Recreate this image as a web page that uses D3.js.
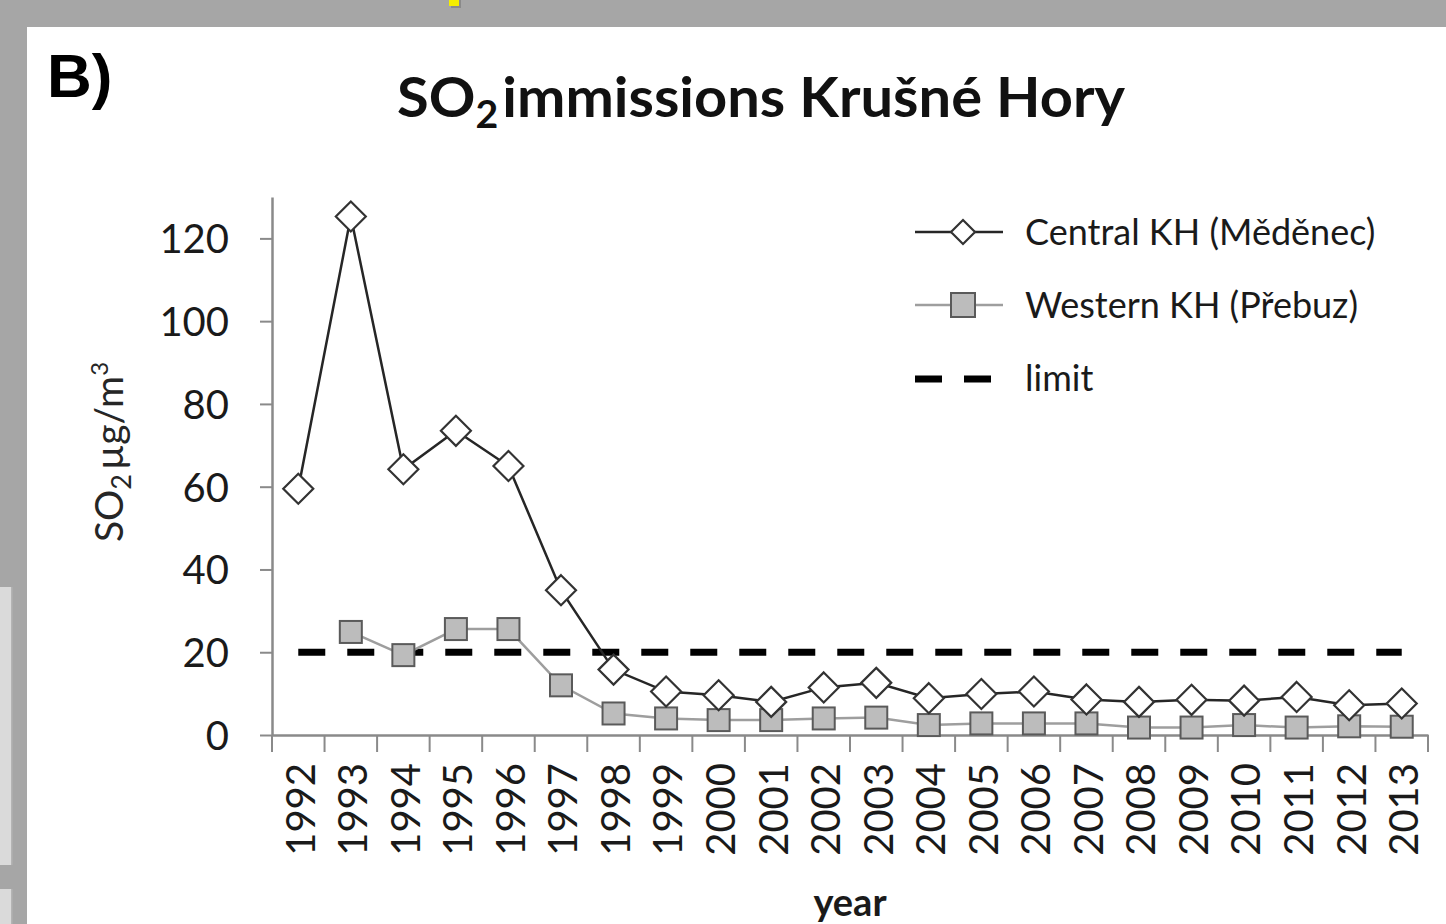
<!DOCTYPE html>
<html>
<head>
<meta charset="utf-8">
<script src="https://cdn.jsdelivr.net/npm/d3@7"></script>
<style>
  body { margin: 0; background: #a6a6a6; }
  text { font-family: Lato, "Open Sans", sans-serif; fill: #1a1a1a; }
</style>
</head>
<body>
<svg id="chart" width="1446" height="924"></svg>
<script>
var years = d3.range(1992, 2014).map(String);
// Central KH (Měděnec), diamonds
var central = [59.5, 125.3, 64.2, 73.5, 65, 35, 15.8, 10.5, 9.6, 8, 11.5, 12.6, 8.9, 9.9, 10.5, 8.6, 8, 8.5, 8.3, 9.2, 7.2, 7.6];
// Western KH (Přebuz), squares, no value in 1992
var western = [null, 24.9, 19.3, 25.6, 25.6, 12, 5.2, 4, 3.6, 3.6, 4, 4.2, 2.4, 2.8, 2.8, 2.8, 1.8, 1.8, 2.4, 1.8, 2.1, 2];
var limit = 20;
var yTicks = [0, 20, 40, 60, 80, 100, 120];

var width = 1446, height = 924;
var plotLeft = 272, plotRight = 1428, plotTop = 197, plotBottom = 735;

var svg = d3.select("#chart");

// page background pieces
svg.append("rect").attr("width", width).attr("height", height).attr("fill", "#a6a6a6");
svg.append("rect").attr("x", 0).attr("y", 587).attr("width", 12).attr("height", 278).attr("fill", "#dadada");
svg.append("rect").attr("x", 0).attr("y", 889).attr("width", 12).attr("height", 40).attr("fill", "#dadada");
svg.append("rect").attr("x", 11).attr("y", 587).attr("width", 1.5).attr("height", 278).attr("fill", "#b4b4b4");
svg.append("rect").attr("x", 11).attr("y", 889).attr("width", 1.5).attr("height", 40).attr("fill", "#b4b4b4");
svg.append("rect").attr("x", 451).attr("y", 0).attr("width", 10).attr("height", 8).attr("fill", "#6e6e6e").attr("opacity", 0.5);
svg.append("rect").attr("x", 449).attr("y", 0).attr("width", 10).attr("height", 6).attr("fill", "#f5ee00");
svg.append("rect").attr("x", 27).attr("y", 27).attr("width", width - 27).attr("height", height - 27).attr("fill", "#fff");

svg.append("text").attr("x", 47).attr("y", 97)
    .style("font-family", "'Liberation Sans', Arial, sans-serif")
    .style("font-weight", "bold").style("font-size", "62px").style("fill", "#000")
    .text("B)");

var title = svg.append("text").attr("x", 761).attr("y", 117)
    .attr("text-anchor", "middle")
    .style("font-size", "56px").style("font-weight", "bold").style("fill", "#111")
    .attr("textLength", 728).attr("lengthAdjust", "spacingAndGlyphs");
title.append("tspan").text("SO");
title.append("tspan").attr("dy", 11).style("font-size", "38px").text("2");
title.append("tspan").attr("dy", -11).attr("dx", 4).text("immissions Krušné Hory");

var x = d3.scaleBand().domain(years).range([plotLeft, plotRight]);
var y = d3.scaleLinear().domain([0, 130]).range([plotBottom, plotTop]);
var cx = function(i) { return x(years[i]) + x.bandwidth() / 2; };

// y axis
var yAxis = svg.append("g").attr("transform", "translate(" + plotLeft + ",0)")
    .call(d3.axisLeft(y).tickValues(yTicks).tickSize(12).tickSizeOuter(0).tickPadding(31));
yAxis.select(".domain").attr("stroke", "#8a8a8a").attr("stroke-width", 2.5);
yAxis.selectAll(".tick line").attr("stroke", "#8a8a8a").attr("stroke-width", 2);
yAxis.selectAll(".tick text").style("font-size", "40px").style("font-family", "Lato, sans-serif")
    .attr("fill", "#262626").attr("dy", "0.36em");

// x axis, ticks sit between categories
var xAxis = svg.append("g").attr("transform", "translate(0," + plotBottom + ")")
    .call(d3.axisBottom(x).tickSize(0).tickSizeOuter(0).tickPadding(0));
xAxis.select(".domain").attr("stroke", "#8a8a8a").attr("stroke-width", 2.5);
xAxis.selectAll(".tick text")
    .attr("text-anchor", "end")
    .attr("transform", "translate(2,28) rotate(-90)")
    .attr("x", 0).attr("y", 0).attr("dy", "0.36em")
    .style("font-size", "40px").style("font-family", "Lato, sans-serif").attr("fill", "#262626");
xAxis.selectAll(".boundary").data(years.concat(["end"])).enter().append("line")
    .attr("class", "boundary")
    .attr("x1", function(d) { return d === "end" ? plotRight : x(d); })
    .attr("x2", function(d) { return d === "end" ? plotRight : x(d); })
    .attr("y1", 0).attr("y2", 17)
    .attr("stroke", "#8a8a8a").attr("stroke-width", 2);

// axis titles
var yTitle = svg.append("text")
    .attr("transform", "translate(123,452) rotate(-90)")
    .attr("text-anchor", "middle")
    .style("font-size", "39px").style("fill", "#262626");
yTitle.append("tspan").text("SO");
yTitle.append("tspan").attr("dy", 8).style("font-size", "27px").text("2");
yTitle.append("tspan").attr("dy", -8).attr("dx", 4).text("µg/m");
yTitle.append("tspan").attr("dy", -15).style("font-size", "24px").text("3");

svg.append("text").attr("x", (plotLeft + plotRight) / 2).attr("y", 916)
    .attr("text-anchor", "middle")
    .style("font-size", "38px").style("font-weight", "bold").style("fill", "#1a1a1a")
    .text("year");

// limit line
svg.append("line")
    .attr("x1", cx(0)).attr("x2", cx(years.length - 1))
    .attr("y1", y(limit)).attr("y2", y(limit))
    .attr("stroke", "#000").attr("stroke-width", 7)
    .attr("stroke-dasharray", "27,22");

// western series
var westLine = d3.line()
    .defined(function(d) { return d != null; })
    .x(function(d, i) { return cx(i); })
    .y(function(d) { return y(d); });
svg.append("path").datum(western).attr("d", westLine)
    .attr("fill", "none").attr("stroke", "#9e9e9e").attr("stroke-width", 2.5);

var sq = 22;
var westPts = western.map(function(v, i) { return { v: v, i: i }; })
    .filter(function(d) { return d.v != null; });
svg.selectAll(".sq").data(westPts).enter().append("rect").attr("class", "sq")
    .attr("x", function(d) { return cx(d.i) - sq / 2; })
    .attr("y", function(d) { return y(d.v) - sq / 2; })
    .attr("width", sq).attr("height", sq)
    .attr("fill", "#bcbcbc").attr("stroke", "#5a5a5a").attr("stroke-width", 2);

// central series
var centLine = d3.line()
    .x(function(d, i) { return cx(i); })
    .y(function(d) { return y(d); });
svg.append("path").datum(central).attr("d", centLine)
    .attr("fill", "none").attr("stroke", "#262626").attr("stroke-width", 2.5);

var diamond = function(px, py, r) {
    return "M" + px + "," + (py - r) + "L" + (px + r) + "," + py + "L" + px + "," + (py + r) + "L" + (px - r) + "," + py + "Z";
};
svg.selectAll(".dia").data(central).enter().append("path").attr("class", "dia")
    .attr("d", function(d, i) { return diamond(cx(i), y(d), 15); })
    .attr("fill", "#fff").attr("stroke", "#333").attr("stroke-width", 2.2);

// legend
var legend = svg.append("g");
var lx1 = 915, lx2 = 1003, lmid = 963, ltx = 1025;
legend.append("line").attr("x1", lx1).attr("x2", lx2).attr("y1", 232).attr("y2", 232)
    .attr("stroke", "#262626").attr("stroke-width", 2.5);
legend.append("path").attr("d", diamond(lmid, 232, 12))
    .attr("fill", "#fff").attr("stroke", "#333").attr("stroke-width", 2.2);
legend.append("text").attr("x", ltx).attr("y", 245).style("font-size", "36px").text("Central KH (Měděnec)");

legend.append("line").attr("x1", lx1).attr("x2", lx2).attr("y1", 305).attr("y2", 305)
    .attr("stroke", "#9e9e9e").attr("stroke-width", 2.5);
legend.append("rect").attr("x", lmid - 12).attr("y", 305 - 12).attr("width", 24).attr("height", 24)
    .attr("fill", "#bcbcbc").attr("stroke", "#5a5a5a").attr("stroke-width", 2);
legend.append("text").attr("x", ltx).attr("y", 318).style("font-size", "36px").text("Western KH (Přebuz)");

legend.append("line").attr("x1", lx1).attr("x2", 993).attr("y1", 379).attr("y2", 379)
    .attr("stroke", "#000").attr("stroke-width", 7).attr("stroke-dasharray", "27,22");
legend.append("text").attr("x", ltx).attr("y", 391).style("font-size", "36px").text("limit");
</script>
</body>
</html>
